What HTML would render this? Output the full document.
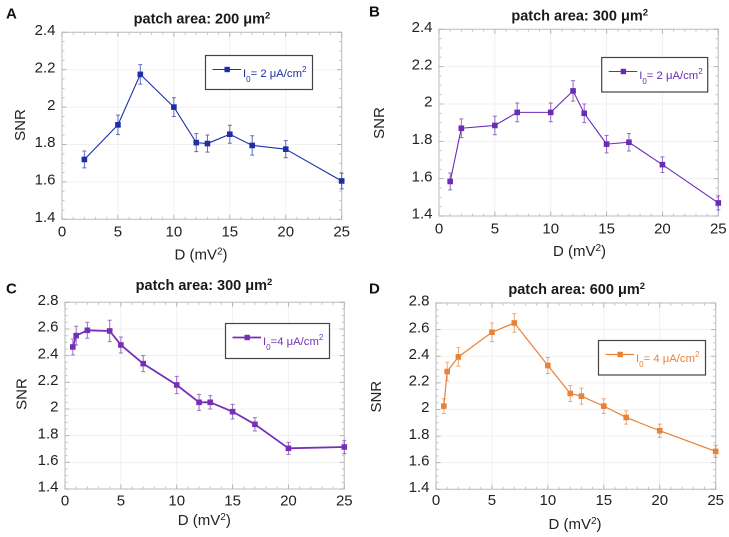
<!DOCTYPE html>
<html lang="en">
<head>
<meta charset="utf-8">
<title>SNR versus noise intensity for four patch areas</title>
<style>
html,body{margin:0;padding:0;background:#fff;width:729px;height:537px;overflow:hidden}
svg{display:block;font-family:"Liberation Sans",sans-serif;filter:blur(0.35px)}
</style>
</head>
<body>
<svg id="fig" width="729" height="537" viewBox="0 0 729 537" xmlns="http://www.w3.org/2000/svg"></svg>
<script>
var aX = [2, 5, 7, 10, 12, 13, 15, 17, 20, 25];
var aY = [1.72, 1.905, 2.175, 2.0, 1.81, 1.805, 1.855, 1.795, 1.775, 1.605];
var aErr = [0.045, 0.052, 0.052, 0.05, 0.048, 0.046, 0.048, 0.052, 0.046, 0.042];
var bX = [1, 2, 5, 7, 10, 12, 13, 15, 17, 20, 25];
var bY = [1.585, 1.87, 1.885, 1.955, 1.955, 2.07, 1.95, 1.785, 1.795, 1.675, 1.47];
var bErr = [0.045, 0.05, 0.05, 0.05, 0.05, 0.055, 0.05, 0.047, 0.047, 0.042, 0.038];
var cX = [0.7, 1, 2, 4, 5, 7, 10, 12, 13, 15, 17, 20, 25];
var cY = [2.465, 2.55, 2.59, 2.585, 2.48, 2.34, 2.18, 2.05, 2.05, 1.98, 1.885, 1.705, 1.715];
var cErr = [0.06, 0.07, 0.06, 0.08, 0.06, 0.06, 0.065, 0.06, 0.05, 0.055, 0.05, 0.045, 0.05];
var dX = [0.7, 1, 2, 5, 7, 10, 12, 13, 15, 17, 20, 25];
var dY = [2.025, 2.285, 2.395, 2.58, 2.65, 2.33, 2.12, 2.1, 2.025, 1.94, 1.84, 1.685];
var dErr = [0.055, 0.07, 0.07, 0.07, 0.07, 0.06, 0.06, 0.06, 0.055, 0.05, 0.05, 0.045];
var xTicks = [0, 5, 10, 15, 20, 25];
var yTicksTop = [1.4, 1.6, 1.8, 2, 2.2, 2.4];
var yTicksBottom = [1.4, 1.6, 1.8, 2, 2.2, 2.4, 2.6, 2.8];

var NS = 'http://www.w3.org/2000/svg';
var fig = document.getElementById('fig');

function make(parent, tag, props, txt) {
  var e = document.createElementNS(NS, tag);
  for (var k in props) e.setAttribute(k, props[k]);
  if (txt !== undefined) e.textContent = txt;
  parent.appendChild(e);
  return e;
}

function drawPanel(p) {
  var g = make(fig, 'g', {});
  
  

  function sx(v) { return p.left + (v - 0) / 25 * (p.right - p.left); }
  function sy(v) {
    var lo = p.yTicks[0], hi = p.yTicks[p.yTicks.length - 1];
    return p.bottom - (v - lo) / (hi - lo) * (p.bottom - p.top);
  }

  var letter = make(g, 'text', {x: p.letterX, y: p.letterY, 'font-size': 15, 'font-weight': 'bold', fill: '#111'}, p.key.toUpperCase());
  
  

  var title = make(g, 'text', {x: p.titleX, y: p.titleY, 'font-size': 14.5, 'font-weight': 'bold', fill: '#1a1a1a', 'text-anchor': 'middle'});
  
  
  make(title, 'tspan', {}, 'patch area: ' + p.area + ' \u03BCm');
  make(title, 'tspan', {dy: -5, 'font-size': 9.5}, '2');

  xTicks.forEach(function (t) {
    var x = sx(t);
    if (t > 0 && t < 25) {
      var gl = make(g, 'path', {d: 'M' + x + ' ' + p.top + 'V' + p.bottom, stroke: '#f1f1f1', 'stroke-width': 1, fill: 'none'});
      
      
    }
  });
  p.yTicks.forEach(function (t, i) {
    if (i > 0 && i < p.yTicks.length - 1) {
      var y = sy(t);
      var gl = make(g, 'path', {d: 'M' + p.left + ' ' + y + 'H' + p.right, stroke: '#f1f1f1', 'stroke-width': 1, fill: 'none'});
      
      
    }
  });

  var frame = make(g, 'rect', {x: p.left, y: p.top, width: p.right - p.left, height: p.bottom - p.top, fill: 'none', stroke: '#c6c6c6', 'stroke-width': 1.2});
  
  

  xTicks.forEach(function (t) {
    var x = sx(t);
    var tick = make(g, 'path', {d: 'M' + x + ' ' + p.bottom + 'v-4.5M' + x + ' ' + p.top + 'v4.5', stroke: '#b4b4b4', 'stroke-width': 1, fill: 'none'});
    
    
    var lab = make(g, 'text', {x: x, y: p.bottom + p.xLabelGap, 'font-size': 15, fill: '#222', 'text-anchor': 'middle'}, String(t));
    
    
    if (t < 25) {
      for (var m = 1; m < 5; m++) {
        var mx = sx(t + m);
        var minor = make(g, 'path', {d: 'M' + mx + ' ' + p.bottom + 'v-2.5M' + mx + ' ' + p.top + 'v2.5', stroke: '#c2c2c2', 'stroke-width': 1, fill: 'none'});
        
        
      }
    }
  });

  p.yTicks.forEach(function (t, i) {
    var y = sy(t);
    var tick = make(g, 'path', {d: 'M' + p.left + ' ' + y + 'h4.5M' + p.right + ' ' + y + 'h-4.5', stroke: '#b4b4b4', 'stroke-width': 1, fill: 'none'});
    
    
    var lab = make(g, 'text', {x: p.left - 6.5, y: y + 2.7, 'font-size': 15, fill: '#222', 'text-anchor': 'end'}, String(t));
    
    
    if (i < p.yTicks.length - 1) {
      var next = p.yTicks[i + 1];
      for (var m = 1; m < 4; m++) {
        var my = sy(t + (next - t) * m / 4);
        var minor = make(g, 'path', {d: 'M' + p.left + ' ' + my + 'h2.5M' + p.right + ' ' + my + 'h-2.5', stroke: '#c2c2c2', 'stroke-width': 1, fill: 'none'});
        
        
      }
    }
  });

  var xt = make(g, 'text', {x: p.xTitleX, y: p.xTitleY, 'font-size': 15, fill: '#222', 'text-anchor': 'middle'});
  
  
  make(xt, 'tspan', {}, 'D (mV');
  make(xt, 'tspan', {dy: -5, 'font-size': 10}, '2');
  make(xt, 'tspan', {dy: 5}, ')');

  var yt = make(g, 'text', {x: 0, y: 0, 'font-size': 15, fill: '#222', 'text-anchor': 'middle', transform: 'translate(' + p.yTitleX + ' ' + p.yTitleY + ') rotate(-90)'}, 'SNR');
  
  

  var pts = p.xs.map(function (v, i) { return sx(v) + ',' + sy(p.ys[i]); }).join(' ');
  var line = make(g, 'polyline', {points: pts, fill: 'none', stroke: p.color, 'stroke-width': p.lineWidth, 'stroke-linejoin': 'round'});
  
  

  p.xs.forEach(function (v, i) {
    var x = sx(v), hi = sy(p.ys[i] + p.errs[i]), lo = sy(p.ys[i] - p.errs[i]);
    var bar = make(g, 'path', {d: 'M' + x + ' ' + hi + 'V' + lo + 'M' + (x - 2) + ' ' + hi + 'h4M' + (x - 2) + ' ' + lo + 'h4', stroke: p.color, 'stroke-width': 1, 'stroke-opacity': 0.7, fill: 'none'});
    
    
    var mark = make(g, 'rect', {x: x - 2.8, y: sy(p.ys[i]) - 2.8, width: 5.6, height: 5.6, fill: p.color});
    
    
  });

  var lg = make(g, 'g', {});
  
  
  var box = make(lg, 'rect', {x: p.lg[0], y: p.lg[1], width: p.lg[2], height: p.lg[3], fill: '#fff', stroke: '#444', 'stroke-width': 1.2});
  
  
  var ly = p.lg[1] + 14;
  var ll = make(lg, 'path', {d: 'M' + (p.lg[0] + 7) + ' ' + ly + 'h28.5', stroke: p.color, 'stroke-width': p.lineWidth, fill: 'none'});
  
  
  var lm = make(lg, 'rect', {x: p.lg[0] + 19, y: ly - 2.7, width: 5.4, height: 5.4, fill: p.color});
  
  
  var lt = make(lg, 'text', {x: p.lg[0] + 37.5, y: p.lg[1] + 21.7, 'font-size': 11.3, fill: p.color});
  
  
  make(lt, 'tspan', {}, 'I');
  make(lt, 'tspan', {dy: 5, 'font-size': 8}, '0');
  make(lt, 'tspan', {dy: -5}, p.legendText);
  make(lt, 'tspan', {dy: -5, 'font-size': 8}, '2');
}

drawPanel({key: 'a', area: '200', xs: aX, ys: aY, errs: aErr, yTicks: yTicksTop, color: '#1c2fa6', lineWidth: 1.1,
  left: 62, right: 341.7, top: 32.3, bottom: 219.3, xLabelGap: 17.4, letterX: 6, letterY: 18.5, titleX: 202, titleY: 23.3,
  xTitleX: 201, xTitleY: 259.5, yTitleX: 25, yTitleY: 125, lg: [205.5, 55.5, 107, 34], legendText: '= 2 \u03BCA/cm'});
drawPanel({key: 'b', area: '300', xs: bX, ys: bY, errs: bErr, yTicks: yTicksTop, color: '#6a2cb5', lineWidth: 1.1,
  left: 439, right: 718.3, top: 29.3, bottom: 216, xLabelGap: 17.3, letterX: 369, letterY: 16.7, titleX: 579.7, titleY: 20.7,
  xTitleX: 579.5, xTitleY: 256, yTitleX: 384, yTitleY: 123, lg: [601.7, 57.5, 106, 34.5], legendText: '= 2 \u03BCA/cm'});
drawPanel({key: 'c', area: '300', xs: cX, ys: cY, errs: cErr, yTicks: yTicksBottom, color: '#7630b5', lineWidth: 1.8,
  left: 65, right: 344.3, top: 302.3, bottom: 489, xLabelGap: 16.7, letterX: 6, letterY: 293.5, titleX: 204, titleY: 290,
  xTitleX: 204.3, xTitleY: 525, yTitleX: 26.7, yTitleY: 394, lg: [225.5, 323.5, 104, 35], legendText: '=4 \u03BCA/cm'});
drawPanel({key: 'd', area: '600', xs: dX, ys: dY, errs: dErr, yTicks: yTicksBottom, color: '#e98239', lineWidth: 1.2,
  left: 436, right: 715.7, top: 303, bottom: 489.3, xLabelGap: 15.7, letterX: 369, letterY: 293.5, titleX: 576.7, titleY: 294,
  xTitleX: 575, xTitleY: 529, yTitleX: 381, yTitleY: 396.7, lg: [598.5, 340.5, 107, 34.5], legendText: '= 4 \u03BCA/cm'});
</script>
</body>
</html>
